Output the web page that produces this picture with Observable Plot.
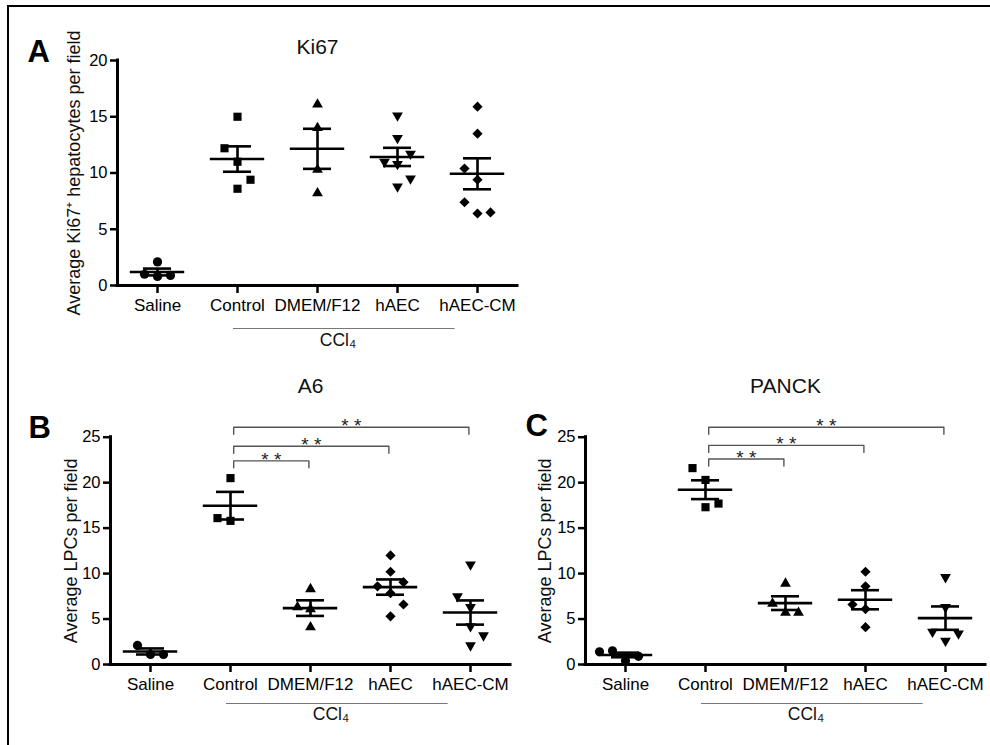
<!DOCTYPE html>
<html>
<head>
<meta charset="utf-8">
<script src="https://cdn.jsdelivr.net/npm/d3@7"></script>
<script src="https://cdn.jsdelivr.net/npm/@observablehq/plot@0.6"></script>
<style>
  body { margin: 0; background: #fff; }
  #fig { position: relative; width: 990px; height: 745px; overflow: hidden; background: #fff;
         font-family: "Liberation Sans", Arial, Helvetica, sans-serif; }
  .panel { position: absolute; }
  .border { position: absolute; left: 7px; top: 5px; width: 990px; height: 745px;
            border-left: 2px solid #000; border-top: 2px solid #000; box-sizing: border-box; }
  #fig svg [aria-label="x-axis tick"] path, #fig svg [aria-label="y-axis tick"] path { stroke-width: 2.5px; }
</style>
</head>
<body>
<div id="fig"><div class="border"></div></div>
<script>
// ---------------- data ----------------
const groups = ["Saline", "Control", "DMEM/F12", "hAEC", "hAEC-CM"];
const ki67Ticks = [0, 5, 10, 15, 20];
const lpcTicks = [0, 5, 10, 15, 20, 25];

// Ki67+ hepatocytes per field (panel A), one array per group
const ki67Values = [
  [2.1, 0.8, 1.0, 0.9],
  [15.0, 11.0, 8.6, 12.2, 9.4],
  [16.1, 14.0, 10.3, 8.2],
  [15.1, 13.1, 10.8, 8.8, 11.0, 9.5, 11.7],
  [15.9, 13.5, 9.4, 6.4, 10.4, 6.5, 7.4]
];
// A6+ LPCs per field (panel B)
const a6Values = [
  [1.1, 2.1, 1.1],
  [20.5, 15.8, 16.1],
  [8.3, 6.1, 4.1, 6.3],
  [12.0, 10.2, 7.85, 5.3, 8.6, 6.6, 9.05],
  [11.0, 6.3, 4.2, 2.1, 7.5, 3.2]
];
// PANCK+ LPCs per field (panel C)
const panckValues = [
  [0.4, 1.5, 0.9, 1.4],
  [20.3, 17.3, 21.6, 17.7],
  [8.9, 5.7, 6.7, 5.7],
  [10.2, 8.6, 6.1, 4.1, 6.6],
  [9.6, 6.3, 2.6, 3.6, 3.4]
];

// significance comparisons (Control vs ...)
const comparisonRef = "Control";
const comparisonTargets = ["DMEM/F12", "hAEC", "hAEC-CM"];
const comparisonLabels = ["* *", "* *", "* *"];
const a6BracketHeights = [22.4, 24.0, 26.1];
const panckBracketHeights = [22.6, 24.1, 26.1];

const panelTitles = ["Ki67", "A6", "PANCK"];
const panelLetters = ["A", "B", "C"];
const yLabels = ["Average Ki67\u207A hepatocytes per field", "Average LPCs per field", "Average LPCs per field"];
const treatmentLabel = "CCl\u2084";
const treatmentGroups = ["Control", "hAEC"];

// ---------------- symbols ----------------
const S3 = Math.sqrt(3);
const downTriangle = { draw(ctx, size) { const y = Math.sqrt(size / (S3 * 3));
  ctx.moveTo(0, 2 * y); ctx.lineTo(-S3 * y, -y); ctx.lineTo(S3 * y, -y); ctx.closePath(); } };
const diamond = { draw(ctx, size) { const r = Math.sqrt(size) * 0.62625;
  ctx.moveTo(0, -r); ctx.lineTo(r, 0); ctx.lineTo(0, r); ctx.lineTo(-r, 0); ctx.closePath(); } };
const SYM = {
  circle: { symbol: "circle", r: 4.6 },
  square: { symbol: "square", r: 4.6 },
  up: { symbol: "triangle", r: 4.0 },
  down: { symbol: downTriangle, r: 4.0 },
  diamond: { symbol: diamond, r: 4.6 }
};

// ---------------- helpers ----------------
function jitterOffsets(vals, pxPerUnit, thr = 14) {
  const placed = [];
  return vals.map(v => {
    const y = v * pxPerUnit;
    const collides = off => placed.some(p => p.off === off && Math.abs(p.y - y) < thr);
    let off = 0;
    if (collides(0)) {
      for (let k = 1; k < 6; k++) {
        const nl = placed.filter(p => p.off < 0).length, nr = placed.filter(p => p.off > 0).length;
        const order = nr < nl ? [k, -k] : [-k, k];
        const f = order.find(o => !collides(o));
        if (f !== undefined) { off = f; break; }
      }
    }
    placed.push({ off, y });
    return off;
  });
}

const FONT = '"Liberation Sans", Arial, Helvetica, sans-serif';

function drawPanel(c) {
  const innerW = c.width - c.ml - c.mr;
  const bandPx = innerW / groups.length;
  const pxPerUnit = (c.height - c.mt - c.mb) / c.yMax;
  const jitterStep = 13 / bandPx;

  const pts = [];
  c.values.forEach((vals, gi) => {
    const offs = jitterOffsets(vals, pxPerUnit);
    vals.forEach((v, j) => pts.push({ g: gi, x: gi + offs[j] * jitterStep, y: v }));
  });
  const stats = c.values.map((vals, gi) => {
    const m = d3.mean(vals), s = d3.deviation(vals) / Math.sqrt(vals.length);
    return { g: gi, m, lo: m - s, hi: m + s };
  });

  const marks = [];
  // axis lines
  marks.push(Plot.ruleY([{ y: 0, x1: -0.5, x2: groups.length - 0.5 }], { y: "y", x1: "x1", x2: "x2", stroke: "#000", strokeWidth: 3, strokeLinecap: "square" }));
  marks.push(Plot.ruleX([{ x: -0.5, y1: 0, y2: c.yMax }], { x: "x", y1: "y1", y2: "y2", stroke: "#000", strokeWidth: 3, strokeLinecap: "square" }));
  marks.push(Plot.axisY({ ticks: c.yTicks, tickFormat: d => String(d), tickSize: 7, tickPadding: 3, fontSize: 16.5, strokeWidth: 2.5, label: null }));
  marks.push(Plot.axisX({ ticks: d3.range(groups.length), tickFormat: i => groups[i], tickSize: 8, tickPadding: 5, fontSize: 17, strokeWidth: 2.5, label: null }));

  // points
  c.values.forEach((vals, gi) => {
    const s = SYM[c.symbols[gi]];
    marks.push(Plot.dot(pts.filter(p => p.g === gi), { x: "x", y: "y", symbol: s.symbol, r: s.r, fill: "#000", stroke: null }));
  });
  // mean ± SEM
  marks.push(Plot.ruleY(stats, { y: "m", x1: d => d.g - 0.34, x2: d => d.g + 0.34, stroke: "#000", strokeWidth: 2.6 }));
  marks.push(Plot.ruleY(stats, { y: "hi", x1: d => d.g - 0.175, x2: d => d.g + 0.175, stroke: "#000", strokeWidth: 2.6 }));
  marks.push(Plot.ruleY(stats, { y: "lo", x1: d => d.g - 0.175, x2: d => d.g + 0.175, stroke: "#000", strokeWidth: 2.6 }));
  marks.push(Plot.ruleX(stats, { x: "g", y1: "lo", y2: "hi", stroke: "#000", strokeWidth: 2.6 }));

  // significance brackets
  if (c.brackets) {
    const ref = groups.indexOf(comparisonRef);
    const tk = 7 / pxPerUnit;
    c.brackets.forEach((h, i) => {
      const t = groups.indexOf(comparisonTargets[i]);
      const x0 = ref + 0.04, x1 = t - 0.02;
      marks.push(Plot.line([{ x: x0, y: h - tk }, { x: x0, y: h }, { x: x1, y: h }, { x: x1, y: h - tk }],
        { x: "x", y: "y", stroke: "#555", strokeWidth: 1.4 }));
      marks.push(Plot.text([{ x: (x0 + x1) / 2, y: h }], { x: "x", y: "y", text: () => comparisonLabels[i], fontSize: 19, dy: -1, fill: "#222" }));
    });
  }

  // treatment (CCl4) annotation
  const t0 = groups.indexOf(treatmentGroups[0]) - 0.05, t1 = groups.indexOf(treatmentGroups[1]) + 0.72;
  marks.push(Plot.ruleY([{ y: 0, x1: t0, x2: t1 }], { y: "y", x1: "x1", x2: "x2", dy: c.cclLineDy, stroke: "#777", strokeWidth: 1.2 }));
  marks.push(Plot.text([treatmentLabel], { x: () => (t0 + t1) / 2 - 0.08, frameAnchor: "bottom", dy: c.cclTextDy, text: d => d, fontSize: 17.5, fill: "#111" }));

  // y label, title, panel letter
  marks.push(Plot.text([c.yLabel], { frameAnchor: "left", textAnchor: "middle", rotate: -90, dx: c.labelDx, text: d => d, fontSize: 18, fill: "#111" }));
  marks.push(Plot.text([c.title], { frameAnchor: "top", textAnchor: "middle", dy: c.titleDy, text: d => d, fontSize: 21, fill: "#111" }));
  marks.push(Plot.text([c.letter], { frameAnchor: "top-left", dx: c.letterDx, dy: c.letterDy, text: d => d, fontSize: 31, fontWeight: "bold", textAnchor: "start", fill: "#000" }));

  const svg = Plot.plot({
    width: c.width, height: c.height,
    marginLeft: c.ml, marginRight: c.mr, marginTop: c.mt, marginBottom: c.mb,
    style: { background: "transparent", overflow: "visible", fontFamily: FONT },
    x: { type: "linear", domain: [-0.5, groups.length - 0.5] },
    y: { type: "linear", domain: [0, c.yMax] },
    marks
  });
  const div = document.createElement("div");
  div.className = "panel";
  div.style.left = c.left + "px";
  div.style.top = c.top + "px";
  div.appendChild(svg);
  document.getElementById("fig").appendChild(div);
}

drawPanel({
  values: ki67Values, yMax: 20, yTicks: ki67Ticks,
  symbols: ["circle", "square", "up", "down", "diamond"],
  left: 0, top: 0, width: 540, height: 370, ml: 117, mr: 23, mt: 60, mb: 85,
  title: panelTitles[0], letter: panelLetters[0], yLabel: yLabels[0],
  titleDy: -21, letterDx: -90, letterDy: -21, labelDx: -43,
  cclLineDy: 43, cclTextDy: 60
});
drawPanel({
  values: a6Values, yMax: 25, yTicks: lpcTicks,
  symbols: ["circle", "square", "up", "diamond", "down"],
  left: 0, top: 370, width: 530, height: 375, ml: 110, mr: 20, mt: 66.7, mb: 81,
  title: panelTitles[1], letter: panelLetters[1], yLabel: yLabels[1], brackets: a6BracketHeights,
  titleDy: -58.7, letterDx: -82, letterDy: -21.7, labelDx: -39,
  cclLineDy: 39, cclTextDy: 55
});
drawPanel({
  values: panckValues, yMax: 25, yTicks: lpcTicks,
  symbols: ["circle", "square", "up", "diamond", "down"],
  left: 470, top: 370, width: 520, height: 375, ml: 115, mr: 5, mt: 66.7, mb: 81,
  title: panelTitles[2], letter: panelLetters[2], yLabel: yLabels[2], brackets: panckBracketHeights,
  titleDy: -58.7, letterDx: -60, letterDy: -23.2, labelDx: -40,
  cclLineDy: 39, cclTextDy: 55
});
</script>
</body>
</html>
